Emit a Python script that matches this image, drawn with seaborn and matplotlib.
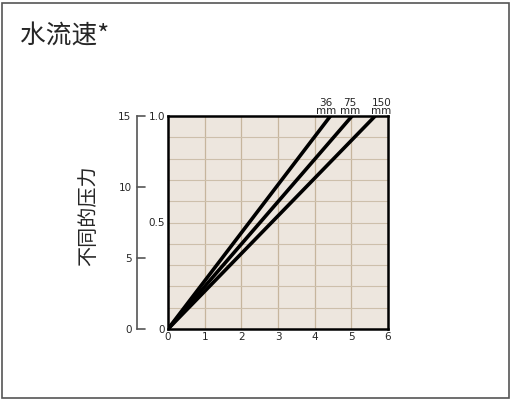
import numpy as np
import pandas as pd
import seaborn as sns
from matplotlib import pyplot as plt
from matplotlib.patches import Rectangle

# series: pipe diameter -> velocity at which relative pressure reaches 1.0
sizes = ['36\nmm', '75\nmm', '150\nmm']
velocity_end = [4.43, 5.02, 5.65]
label_x = [4.3, 4.97, 5.82]
pressure_pts = [0.0, 1.0]
left_ticks = [0, 5, 10, 15]
inner_ticks = [0, 0.5, 1.0]
inner_labels = ['0', '0.5', '1.0']
x_ticks = [0, 1, 2, 3, 4, 5, 6]

rows = []
for s, v in zip(sizes, velocity_end):
    for p in pressure_pts:
        rows.append({'size': s, 'velocity': v * p, 'pressure': p})
df = pd.DataFrame(rows)

sns.set_theme(style='white')
plt.rcParams['font.family'] = ['Noto Sans CJK SC', 'DejaVu Sans']

W, H = 513, 404
fig = plt.figure(figsize=(W / 100, H / 100), dpi=100)
fig.patches.append(Rectangle((2 / W, 6 / H), 507 / W, 395 / H, transform=fig.transFigure,
                             fill=False, edgecolor='#555555', lw=1.2))

ax = fig.add_axes([168 / W, (H - 329) / H, 220 / W, 213 / H])
ax.set_facecolor('#ede6de')
sns.lineplot(data=df, x='velocity', y='pressure', units='size', estimator=None,
             color='black', lw=2.6, ax=ax, legend=False, solid_capstyle='butt')
ax.set_xlim(0, 6)
ax.set_ylim(0, 1.0)
ax.set_xticks(x_ticks)
ax.set_xticklabels([str(t) for t in x_ticks], fontsize=7.5, family='DejaVu Sans')
ax.set_yticks(inner_ticks)
ax.set_yticklabels(inner_labels, fontsize=7.5, family='DejaVu Sans')
ax.tick_params(axis='both', length=0, pad=2)
ax.set_xlabel('')
ax.set_ylabel('')
for x in x_ticks[1:-1]:
    ax.axvline(x, color='#c6b59d', lw=0.9, zorder=0.5)
for y in np.arange(0.1, 1.0, 0.1):
    ax.axhline(y, color='#cdbfab', lw=0.8, zorder=0.5)
for sp in ax.spines.values():
    sp.set_visible(True)
    sp.set_color('black')
    sp.set_linewidth(1.8)

for s, lx in zip(sizes, label_x):
    ax.text(lx, 1.0, s, ha='center', va='bottom', fontsize=7.5, family='DejaVu Sans',
            linespacing=0.8)

# outer pressure scale
ax2 = fig.add_axes([137 / W, (H - 329) / H, 1 / W, 213 / H])
ax2.set_ylim(0, 15)
ax2.set_xticks([])
ax2.set_yticks(left_ticks)
ax2.set_yticklabels([str(t) for t in left_ticks], fontsize=7.5, family='DejaVu Sans')
ax2.yaxis.set_ticks_position('left')
ax2.tick_params(axis='y', length=0, pad=4)
for k in ['top', 'right', 'bottom']:
    ax2.spines[k].set_visible(False)
ax2.spines['left'].set_color('#555555')
ax2.spines['left'].set_linewidth(1.2)
ax2.patch.set_visible(False)
for t in left_ticks:
    ax2.plot([0, 8], [t, t], color='#555555', lw=1.2, clip_on=False,
             transform=ax2.get_yaxis_transform())

fig.text(89 / W, 1 - 216 / H, '不同的压力', rotation=90, ha='center', va='center', fontsize=14.5)
fig.text(20 / W, 1 - 37 / H, '水流速*', ha='left', va='center', fontsize=18.5)

fig.savefig('out.png', dpi=100)
